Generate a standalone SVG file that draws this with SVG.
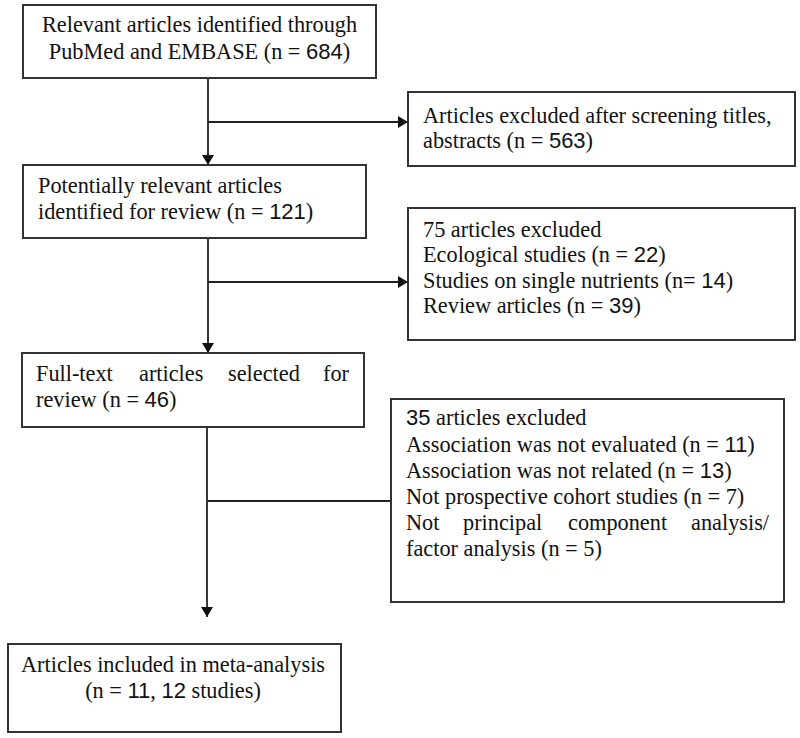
<svg xmlns="http://www.w3.org/2000/svg" width="800" height="738" viewBox="0 0 800 738">
<style>
.box{fill:#fff;stroke:#333;stroke-width:2}
.t{font-family:"Liberation Serif","Times New Roman",serif;font-size:22.3px;fill:#111}
.n{font-family:"Liberation Sans",Arial,sans-serif;font-size:22px}
.c{text-anchor:middle}
.ln{fill:none;stroke:#222;stroke-width:1.8}
</style>
<defs>
<marker id="ah" viewBox="0 0 10 12" refX="10" refY="6" markerWidth="10" markerHeight="12" markerUnits="userSpaceOnUse" orient="auto">
<path d="M0,0 L10,6 L0,12 Z" fill="#111"/>
</marker>
</defs>
<rect width="800" height="738" fill="#fff"/>
<g id="connectors">
<line class="ln" x1="208" y1="78" x2="208" y2="165" marker-end="url(#ah)"/>
<line class="ln" x1="208" y1="122" x2="408" y2="122" marker-end="url(#ah)"/>
<line class="ln" x1="208" y1="238" x2="208" y2="353" marker-end="url(#ah)"/>
<line class="ln" x1="208" y1="282" x2="408" y2="282" marker-end="url(#ah)"/>
<line class="ln" x1="207" y1="427" x2="207" y2="617" marker-end="url(#ah)"/>
<line class="ln" x1="207" y1="501" x2="391" y2="501"/>
</g>
<g id="identified">
<rect class="box" x="23" y="5" width="353" height="73"/>
<text class="t c" x="199.5" y="32">Relevant articles identified through</text>
<text class="t c" x="199.5" y="59">PubMed and EMBASE (n = <tspan class="n">684</tspan>)</text>
</g>
<g id="excluded-screening">
<rect class="box" x="408" y="92" width="387" height="74"/>
<text class="t" x="423" y="123">Articles excluded after screening titles,</text>
<text class="t" x="423" y="148">abstracts (n = <tspan class="n">563</tspan>)</text>
</g>
<g id="potentially-relevant">
<rect class="box" x="23" y="165" width="343" height="73"/>
<text class="t" x="38" y="193">Potentially relevant articles</text>
<text class="t" x="38" y="219">identified for review (n = <tspan class="n">121</tspan>)</text>
</g>
<g id="excluded-75">
<rect class="box" x="408" y="208" width="387" height="132"/>
<text class="t" x="423" y="237">75 articles excluded</text>
<text class="t" x="423" y="262">Ecological studies (n = <tspan class="n">22</tspan>)</text>
<text class="t" x="423" y="288">Studies on single nutrients (n= <tspan class="n">14</tspan>)</text>
<text class="t" x="423" y="313">Review articles (n = <tspan class="n">39</tspan>)</text>
</g>
<g id="full-text">
<rect class="box" x="22" y="353" width="342" height="74"/>
<text class="t" y="381"><tspan x="36">Full-text</tspan><tspan x="139">articles</tspan><tspan x="228">selected</tspan><tspan x="323">for</tspan></text>
<text class="t" x="36" y="407">review (n = <tspan class="n">46</tspan>)</text>
</g>
<g id="excluded-35">
<rect class="box" x="391" y="399" width="393" height="203"/>
<text class="t" x="406" y="425"><tspan class="n">35</tspan> articles excluded</text>
<text class="t" x="406" y="452">Association was not evaluated (n = <tspan class="n">11</tspan>)</text>
<text class="t" x="406" y="478">Association was not related (n = <tspan class="n">13</tspan>)</text>
<text class="t" x="406" y="504">Not prospective cohort studies (n = 7)</text>
<text class="t" y="530"><tspan x="406">Not</tspan><tspan x="463">principal</tspan><tspan x="568">component</tspan><tspan x="691">analysis/</tspan></text>
<text class="t" x="406" y="556">factor analysis (n = 5)</text>
</g>
<g id="included">
<rect class="box" x="8" y="644" width="333" height="88"/>
<text class="t c" x="173" y="672">Articles included in meta-analysis</text>
<text class="t c" x="173" y="698">(n = <tspan class="n">11</tspan>, <tspan class="n">12</tspan> studies)</text>
</g>
</svg>
